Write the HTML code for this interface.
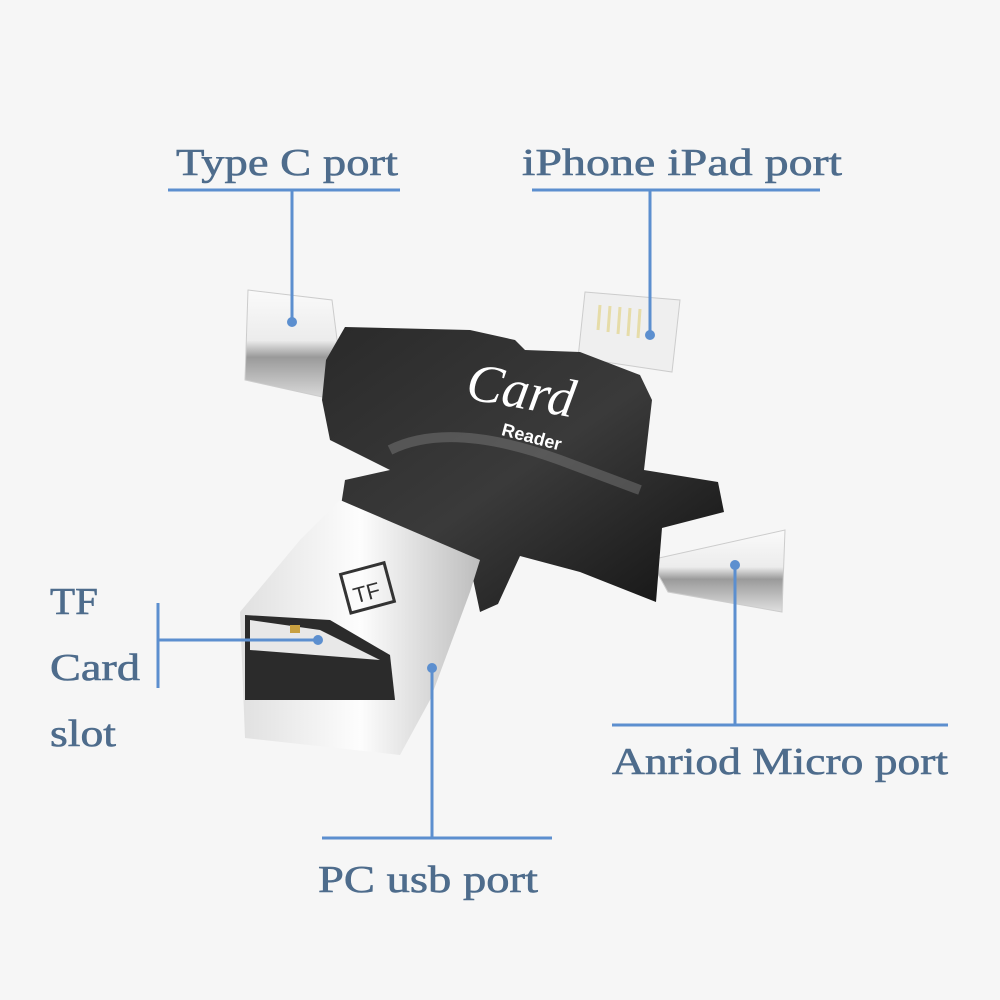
<!DOCTYPE html>
<html><head><meta charset="utf-8"><style>
html,body{margin:0;padding:0;background:#f6f6f6;}
svg{display:block}
.t{font-family:"Liberation Serif",serif;font-size:38px;fill:#4e6c8c;stroke:#4e6c8c;stroke-width:0.6}
</style></head><body>
<svg width="1000" height="1000" viewBox="0 0 1000 1000">
<defs>
<linearGradient id="sil" x1="0" y1="0" x2="0" y2="1"><stop offset="0" stop-color="#fafafa"/><stop offset="0.45" stop-color="#ececec"/><stop offset="0.6" stop-color="#9a9a9a"/><stop offset="1" stop-color="#e0e0e0"/></linearGradient>
<linearGradient id="blk" x1="0" y1="0" x2="1" y2="1"><stop offset="0" stop-color="#2a2a2a"/><stop offset="0.5" stop-color="#3a3a3a"/><stop offset="1" stop-color="#111"/></linearGradient>
<linearGradient id="usb" x1="0" y1="0" x2="1" y2="0"><stop offset="0" stop-color="#e0e0e0"/><stop offset="0.5" stop-color="#fdfdfd"/><stop offset="1" stop-color="#bdbdbd"/></linearGradient>
</defs>
<rect width="1000" height="1000" fill="#f6f6f6"/>
<polygon points="248,290 332,300 345,402 245,380" fill="url(#sil)" stroke="#ccc"/>
<polygon points="585,292 680,300 672,372 578,358" fill="#efefef" stroke="#ccc"/>
<g stroke="#e6dca8" stroke-width="3"><line x1="600" y1="305" x2="598" y2="330"/><line x1="610" y1="306" x2="608" y2="332"/><line x1="620" y1="307" x2="618" y2="334"/><line x1="630" y1="308" x2="628" y2="336"/><line x1="640" y1="309" x2="638" y2="338"/></g>
<polygon points="650,560 785,530 782,612 668,592" fill="url(#sil)" stroke="#ccc"/>
<polygon points="326,360 345,327 470,330 515,340 525,350 580,352 640,375 652,400 644,470 718,482 724,512 662,528 656,602 580,572 520,556 498,604 480,612 470,565 395,545 340,512 345,480 390,470 330,440 322,400" fill="url(#blk)"/>
<path d="M390,450 Q450,420 560,460 L640,490" stroke="#777" stroke-width="10" fill="none" opacity="0.5"/>
<text x="465" y="408" font-family="Liberation Serif,serif" font-style="italic" font-size="54" fill="#fff" transform="rotate(10 520 400)">Card</text>
<text x="500" y="440" font-family="Liberation Sans,sans-serif" font-size="18" font-weight="bold" fill="#fff" transform="rotate(15 520 440)">Reader</text>
<polygon points="340,500 480,560 470,592 430,700 400,755 245,738 240,612 300,540" fill="url(#usb)"/>
<polygon points="245,615 330,620 390,655 395,700 245,700" fill="#2b2b2b"/>
<polygon points="250,620 320,630 380,660 250,650" fill="#e8e8e8"/>
<rect x="290" y="625" width="10" height="8" fill="#c8a040"/>
<rect x="345" y="568" width="45" height="40" fill="none" stroke="#333" stroke-width="3" transform="rotate(-15 367 588)"/>
<text x="352" y="600" font-family="Liberation Sans,sans-serif" font-size="22" fill="#333" transform="rotate(-15 367 588)">TF</text>
<g stroke="#5c8fcf" stroke-width="3" fill="none">
<line x1="168" y1="190" x2="400" y2="190"/><line x1="292" y1="190" x2="292" y2="322"/>
<line x1="532" y1="190" x2="820" y2="190"/><line x1="650" y1="190" x2="650" y2="335"/>
<line x1="158" y1="603" x2="158" y2="688"/><line x1="158" y1="640" x2="318" y2="640"/>
<line x1="322" y1="838" x2="552" y2="838"/><line x1="432" y1="668" x2="432" y2="838"/>
<line x1="612" y1="725" x2="948" y2="725"/><line x1="735" y1="565" x2="735" y2="725"/>
</g>
<g fill="#5c8fcf"><circle cx="292" cy="322" r="5"/><circle cx="650" cy="335" r="5"/><circle cx="318" cy="640" r="5"/><circle cx="432" cy="668" r="5"/><circle cx="735" cy="565" r="5"/></g>
<text class="t" x="176" y="175" textLength="222" lengthAdjust="spacingAndGlyphs">Type C  port</text>
<text class="t" x="522" y="175" textLength="320" lengthAdjust="spacingAndGlyphs">iPhone  iPad  port</text>
<text class="t" x="50" y="614" textLength="48" lengthAdjust="spacingAndGlyphs">TF</text>
<text class="t" x="50" y="680" textLength="90" lengthAdjust="spacingAndGlyphs">Card</text>
<text class="t" x="50" y="746" textLength="66" lengthAdjust="spacingAndGlyphs">slot</text>
<text class="t" x="318" y="892" textLength="220" lengthAdjust="spacingAndGlyphs">PC  usb port</text>
<text class="t" x="612" y="774" textLength="336" lengthAdjust="spacingAndGlyphs">Anriod Micro port</text>
</svg>
</body></html>
